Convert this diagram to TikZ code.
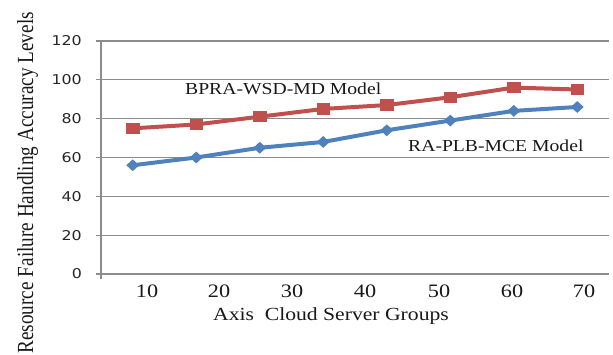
\documentclass[tikz,border=0pt]{standalone}
\usepackage{fontspec}
\setmainfont{Liberation Serif}
\newfontfamily\ticksans{DejaVu Sans}
\usepackage{graphicx}
\usetikzlibrary{shapes.geometric}
\definecolor{serieRed}{HTML}{C0504D}
\definecolor{serieBlue}{HTML}{4F81BD}
\definecolor{gridGray}{HTML}{8C8C8C}
% slightly widened lettering
\newcommand{\wide}[1]{\scalebox{1.17}[1]{#1}}

\begin{document}
\begin{tikzpicture}[x=1bp,y=1bp,
  gridline/.style={draw=gridGray, line width=1.3bp},
  axisline/.style={draw=gridGray, line width=1.8bp},
  ytick/.style={anchor=east, inner sep=0, text=black!85,
    font=\ticksans\fontsize{13.5bp}{16bp}\selectfont},
  xtick/.style={anchor=base, inner sep=0, text=black!90,
    font=\fontsize{19bp}{22bp}\selectfont},
  serieslabel/.style={anchor=base west, inner sep=0, text=black!90,
    font=\fontsize{16.8bp}{20bp}\selectfont},
  redline/.style={draw=serieRed, line width=4bp, line join=round},
  blueline/.style={draw=serieBlue, line width=4bp, line join=round},
  redmark/.style={rectangle, fill=serieRed, minimum width=13.5bp,
    minimum height=11.5bp, inner sep=0},
  bluemark/.style={diamond, fill=serieBlue, minimum width=13bp,
    minimum height=12bp, inner sep=0},
]
\useasboundingbox (0,0) rectangle (613,354);

% plot area: category slots along x, accuracy values along y
\begin{scope}[shift={(101,80)}, x=63.5bp, y=1.942bp]
  \foreach \v in {20,40,...,120}
    \draw[gridline] ([xshift=-5bp]0,\v) -- (8,\v);
  \draw[axisline] ([xshift=-5bp]0,0) -- (8,0);
  \draw[axisline] ([yshift=-5bp]0,0) -- (0,120);

  \foreach \v in {0,20,...,120}
    \node[ytick] (yt\v) at ([xshift=-19bp]0,\v) {\wide{\v}};

  % BPRA-WSD-MD series
  \foreach \i/\v in {1/75,2/77,3/81,4/85,5/87,6/91,7/96,8/95}
    \coordinate (rp\i) at (\i-0.5,\v);
  % RA-PLB-MCE series
  \foreach \i/\v in {1/56,2/60,3/65,4/68,5/74,6/79,7/84,8/86}
    \coordinate (bp\i) at (\i-0.5,\v);

  \draw[redline] (rp1) -- (rp2) -- (rp3) -- (rp4) -- (rp5) -- (rp6) -- (rp7) -- (rp8);
  \draw[blueline] (bp1) -- (bp2) -- (bp3) -- (bp4) -- (bp5) -- (bp6) -- (bp7) -- (bp8);
  \foreach \i in {1,...,8} {
    \node[redmark] (rm\i) at (rp\i) {};
    \node[bluemark] (bm\i) at (bp\i) {};
  }
\end{scope}

% series labels
\node[serieslabel] (bpralab) at (185,260) {\wide{BPRA-WSD-MD Model}};
\node[serieslabel] (raplblab) at (408,203) {\wide{RA-PLB-MCE Model}};

% category labels
\foreach \lab/\px in {10/147,20/219,30/292,40/365,50/439,60/512,70/584}
  \node[xtick] (xt\lab) at (\px,57) {\wide{\lab}};

% axis titles
\node[anchor=base, inner sep=0, text=black!90, font=\fontsize{18.5bp}{22bp}\selectfont]
  (xtitle) at (331,34) {\wide{Axis\ \ Cloud Server Groups}};
\node[rotate=90, anchor=base east, inner sep=0, text=black!90,
  font=\fontsize{19.2bp}{22bp}\selectfont]
  (ytitle) at (33,342) {\scalebox{1}[1.2]{Resource Failure Handling Accuracy Levels}};
\end{tikzpicture}
\end{document}
